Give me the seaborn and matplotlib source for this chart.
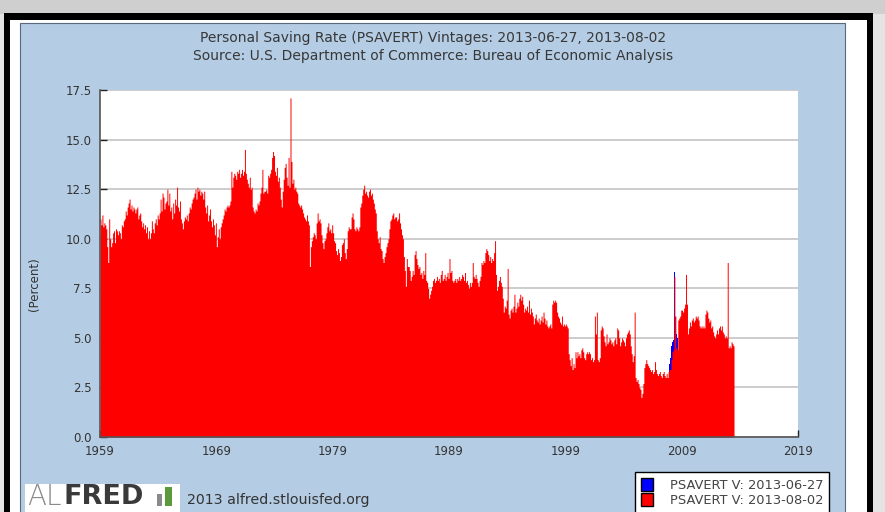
import numpy as np
import pandas as pd
import matplotlib
matplotlib.use('Agg')
import matplotlib.pyplot as plt
from matplotlib.patches import Rectangle, Patch
import seaborn as sns

# Personal Saving Rate (PSAVERT), monthly, vintage 2013-08-02
sav_1959_1968 = [
    11.0, 10.7, 11.2, 10.6, 10.8, 10.7, 10.5, 9.6, 8.8, 11.0, 10.0, 9.6,
    9.8, 10.3, 10.4, 9.8, 10.5, 10.4, 10.2, 10.4, 10.3, 10.0, 10.7, 10.6,
    10.9, 11.0, 11.4, 11.2, 11.6, 11.8, 12.0, 11.5, 11.7, 11.4, 11.6, 11.5,
    11.3, 11.5, 11.6, 11.0, 11.2, 11.3, 10.9, 10.6, 10.8, 10.5, 10.7, 10.3,
    10.6, 10.0, 10.4, 10.0, 10.3, 10.9, 10.5, 10.3, 10.8, 11.0, 10.7, 11.2,
    11.0, 11.3, 12.0, 11.4, 12.3, 12.1, 11.5, 11.8, 11.9, 12.5, 11.7, 12.3,
    11.4, 11.6, 11.0, 11.8, 11.3, 12.0, 11.7, 12.6, 11.6, 11.4, 11.9, 11.0,
    10.8, 10.5, 10.9, 11.1, 11.0, 11.2, 10.9, 11.3, 11.6, 11.5, 11.8, 12.0,
    12.1, 12.3, 12.5, 12.0, 12.6, 12.4, 12.5, 12.2, 12.4, 12.3, 12.0, 12.4,
    11.6, 11.3, 11.7, 10.9, 11.2, 11.5, 10.9, 10.6, 11.0, 10.7, 10.2, 10.8,
]
sav_1969_1978 = [
    9.6, 10.1, 10.5, 10.0, 10.6, 10.8, 11.0, 11.2, 11.5, 11.4, 11.6, 11.7,
    11.6, 11.7, 11.9, 13.4, 12.6, 13.1, 13.3, 13.2, 13.0, 13.4, 13.3, 13.5,
    13.1, 13.3, 13.5, 13.2, 13.4, 14.5, 13.3, 13.0, 12.8, 12.6, 13.1, 12.5,
    12.6, 11.6, 11.4, 11.3, 11.5, 11.4, 11.8, 11.7, 11.9, 12.3, 12.6, 13.5,
    12.3, 12.4, 12.4, 12.5, 12.3, 13.2, 13.1, 13.3, 13.5, 14.1, 14.4, 14.2,
    13.4, 13.2, 13.6, 12.9, 13.1, 12.6, 12.0, 11.6, 12.4, 13.0, 13.6, 13.8,
    13.1, 12.7, 14.1, 12.6, 17.1, 13.9, 12.8, 13.0, 12.5, 12.6, 12.4, 12.3,
    11.8, 11.7, 11.6, 11.7, 11.5, 11.3, 11.1, 11.0, 10.9, 11.2, 10.9, 10.7,
    8.6, 9.6, 9.9, 10.1, 10.3, 10.2, 10.0, 10.8, 11.3, 10.9, 11.0, 10.8,
    10.2, 9.8, 9.5, 9.9, 10.0, 10.3, 10.6, 10.8, 10.4, 10.5, 10.3, 10.7,
]
sav_1979_1988 = [
    10.3, 9.9, 9.8, 9.4, 9.2, 9.5, 9.3, 8.9, 9.1, 9.7, 9.8, 10.0,
    9.3, 9.0, 9.5, 10.4, 10.6, 10.5, 10.5, 11.1, 11.3, 11.0, 10.5, 10.4,
    10.6, 10.5, 10.4, 10.6, 11.6, 11.8, 12.2, 12.5, 12.7, 12.3, 12.4, 12.2,
    12.1, 12.4, 12.5, 12.2, 12.3, 12.0, 11.8, 11.5, 11.3, 10.4, 10.0, 9.8,
    10.1, 9.5, 9.4, 9.0, 8.8, 9.1, 9.3, 9.6, 9.8, 10.0, 10.5, 10.9,
    11.0, 11.2, 11.3, 11.0, 11.1, 11.1, 10.9, 11.0, 11.3, 10.8, 10.5, 10.2,
    10.0, 9.1, 8.4, 7.6, 9.0, 8.6, 8.6, 8.4, 7.9, 8.1, 8.4, 8.2,
    9.2, 9.4, 9.0, 8.7, 8.5, 8.6, 8.2, 8.3, 8.0, 8.4, 8.2, 9.3,
    7.9, 7.8, 7.5, 7.0, 7.2, 7.4, 7.6, 7.9, 8.0, 7.8, 7.9, 8.1,
    7.9, 8.0, 7.8, 8.2, 8.4, 7.9, 8.0, 8.2, 7.9, 8.1, 8.3, 8.0,
]
sav_1989_1998 = [
    9.0, 8.3, 8.4, 7.9, 7.8, 7.9, 8.0, 7.8, 8.0, 7.9, 8.1, 7.9,
    8.0, 8.2, 8.1, 7.9, 8.3, 7.8, 7.9, 7.7, 7.5, 7.8, 7.6, 7.8,
    8.8, 8.1, 8.0, 8.2, 8.0, 7.8, 7.6, 7.9, 8.1, 8.8, 8.7, 8.9,
    8.8, 9.3, 9.5, 9.4, 9.2, 8.9, 9.1, 8.8, 9.0, 8.9, 9.3, 9.9,
    8.2, 7.4, 7.6, 7.9, 8.1, 7.8, 7.6, 7.0, 6.3, 6.6, 6.5, 6.9,
    8.5, 6.2, 6.0, 6.4, 6.5, 6.3, 6.6, 7.2, 6.3, 6.5, 6.8, 6.6,
    7.0, 7.2, 6.9, 7.1, 6.7, 6.3, 6.5, 6.4, 6.6, 6.3, 6.9, 6.2,
    6.5, 6.3, 6.1, 5.7, 6.0, 6.2, 5.9, 5.8, 6.0, 5.7, 5.9, 6.1,
    5.8, 6.3, 6.0, 5.7, 5.9, 5.6, 5.5, 5.6, 5.7, 5.5, 6.7, 6.9,
    6.8, 6.9, 6.8, 6.3, 6.1, 6.0, 5.8, 5.7, 6.1, 5.6, 5.7, 5.6,
]
sav_1999_2008 = [
    5.7, 5.6, 5.5, 4.2, 3.9, 3.6, 4.0, 3.4, 3.7, 3.5, 4.3, 4.0,
    4.3, 4.1, 4.2, 4.0, 4.4, 4.5, 4.3, 4.0, 3.9, 4.2, 4.3, 4.2,
    4.3, 4.2, 3.9, 4.0, 3.8, 3.9, 6.1, 5.2, 6.3, 3.9, 3.8, 4.0,
    5.4, 5.6, 5.5, 5.1, 4.8, 4.6, 5.2, 4.7, 4.8, 5.0, 4.9, 4.7,
    4.8, 4.6, 4.9, 5.0, 4.7, 5.5, 5.4, 5.0, 4.6, 4.8, 5.0, 4.9,
    4.8, 4.6, 5.0, 5.2, 5.3, 5.4, 5.2, 4.6, 4.2, 3.8, 4.1, 6.3,
    3.0, 2.8, 2.9, 2.7, 2.5, 2.4, 2.0, 2.2, 2.7, 3.5, 3.7, 3.9,
    3.7, 3.6, 3.5, 3.4, 3.3, 3.4, 3.2, 3.3, 3.8, 3.4, 3.2, 3.1,
    3.2, 3.3, 3.1, 3.0, 3.2, 3.3, 3.1, 3.0, 3.2, 3.0, 3.3, 3.4,
    3.4, 3.9, 4.3, 4.4, 8.1, 6.1, 4.5, 4.4, 5.9, 6.0, 6.1, 6.4,
]
sav_2009_2013 = [
    6.4, 6.3, 6.5, 6.7, 8.2, 6.7, 5.2, 5.5, 5.8, 5.6, 5.9, 6.0,
    5.8, 5.9, 6.1, 6.0, 6.1, 5.9, 5.6, 5.5, 5.6, 5.5, 5.6, 5.5,
    6.2, 6.4, 6.3, 6.0, 5.8, 5.9, 5.5, 5.6, 5.3, 5.1, 5.0, 5.2,
    5.4, 5.2, 5.5, 5.6, 5.4, 5.6, 5.3, 5.2, 5.0, 5.1, 5.0, 8.8,
    4.5, 4.6, 4.5, 4.8, 4.7, 4.6,
]

# vintage 2013-06-27: only the months where it shows above the newer vintage
old_start = '2007-12'
sav_old = [3.7, 4.0, 4.6, 4.8, 4.9, 8.3, 5.3, 5.2, 5.0]

new_start = '1959-01'
label_old = 'PSAVERT V: 2013-06-27'
label_new = 'PSAVERT V: 2013-08-02'
title = ('Personal Saving Rate (PSAVERT) Vintages: 2013-06-27, 2013-08-02\n'
         'Source: U.S. Department of Commerce: Bureau of Economic Analysis')
x_ticks = [1959, 1969, 1979, 1989, 1999, 2009, 2019]
y_ticks = [0.0, 2.5, 5.0, 7.5, 10.0, 12.5, 15.0, 17.5]


def monthly_frame(start, values):
    per = pd.period_range(start, periods=len(values), freq='M')
    t = per.year + (per.month - 1) / 12.0
    return pd.DataFrame({'t': t + 1 / 24.0, 'left': t, 'rate': values})


new = monthly_frame(new_start, sav_1959_1968 + sav_1969_1978 + sav_1979_1988
                    + sav_1989_1998 + sav_1999_2008 + sav_2009_2013)
old = monthly_frame(old_start, sav_old)

plt.rcParams['font.family'] = ['DejaVu Sans']

fig = plt.figure(figsize=(8.85, 5.12), dpi=100, facecolor='#e4e4e4')
W, H = 885.0, 512.0


def box(x0, y0, x1, y1, z=-10, **kw):
    r = Rectangle((x0 / W, 1 - y1 / H), (x1 - x0) / W, (y1 - y0) / H,
                  transform=fig.transFigure, figure=fig, zorder=z, **kw)
    fig.patches.append(r)


# frame, white mat and blue panel
box(0, 0, 885, 14, facecolor='#cfcfcf', edgecolor='none', z=-12)
box(4, 13, 873, 512, facecolor='black', edgecolor='none', z=-11)
box(10, 20, 867, 512, facecolor='white', edgecolor='none', z=-10)
box(20, 23, 845, 520, facecolor='#b4cce4', edgecolor='#5a6a7a', linewidth=0.8, z=-9)

ax = fig.add_axes([100 / W, 1 - 437 / H, 698 / W, 347 / H])
ax.set_facecolor('white')

sns.histplot(data=old, x='t', weights='rate',
             bins=list(old['left']) + [old['left'].iloc[-1] + 1 / 12.0],
             element='step', fill=True, color='#0000ff', alpha=1, linewidth=0, ax=ax)
sns.histplot(data=new, x='t', weights='rate',
             bins=list(new['left']) + [new['left'].iloc[-1] + 1 / 12.0],
             element='step', fill=True, color='#ff0000', alpha=1, linewidth=0, ax=ax)

ax.set_xlim(1959, 2019)
ax.set_ylim(0, 17.5)
ax.set_xticks(x_ticks)
ax.set_xticklabels([str(v) for v in x_ticks])
ax.set_yticks(y_ticks)
ax.set_yticklabels(['%.1f' % v for v in y_ticks])
ax.set_xlabel('')
ax.set_ylabel('')
ax.grid(axis='y', color='#c4c4c4', linewidth=1.2)
ax.set_axisbelow(True)
for s in ['top', 'right']:
    ax.spines[s].set_visible(False)
for s in ['left', 'bottom']:
    ax.spines[s].set_color('#555555')
    ax.spines[s].set_linewidth(1.2)
ax.tick_params(axis='both', direction='in', length=5, width=1, color='#222222',
               labelsize=8.5, labelcolor='#333333')
ax.tick_params(axis='x', pad=6)
ax.tick_params(axis='y', pad=6)

fig.text(433 / W, 1 - 47 / H, title, ha='center', va='center', fontsize=10,
         color='#383838', linespacing=1.45)
fig.text(35 / W, 1 - 284 / H, '(Percent)', rotation=90, ha='center', va='center',
         fontsize=8.5, color='#333333')

# legend
handles = [Patch(facecolor='#0000ff', edgecolor='black', label=label_old),
           Patch(facecolor='#ff0000', edgecolor='black', label=label_new)]
fig.legend(handles=handles, loc='upper left', bbox_to_anchor=(635 / W, 1 - 472 / H),
           frameon=True, fancybox=False, edgecolor='black', framealpha=1,
           fontsize=9.4, handlelength=0.9, handleheight=1.2, handletextpad=1.3,
           borderpad=0.45, labelspacing=0.05, labelcolor='#444444', borderaxespad=0)

# ALFRED logo and source line
box(25, 484, 180, 515, facecolor='white', edgecolor='none', z=-5)
fig.text(27 / W, 1 - 497 / H, 'AL', fontsize=20, color='#8a8a8a', va='center',
         fontweight='light')
fig.text(64 / W, 1 - 497 / H, 'FRED', fontsize=19.5, fontweight='bold',
         color='#3a3a3a', va='center')
box(157, 494, 162, 506, facecolor='#8a8a8a', edgecolor='none', z=-4)
box(165, 487, 172, 506, facecolor='#5a9a3a', edgecolor='none', z=-4)
fig.text(187 / W, 1 - 500 / H, '2013 alfred.stlouisfed.org', fontsize=10.2,
         color='#333333', va='center')

fig.savefig('out.png', dpi=100, facecolor=fig.get_facecolor())
